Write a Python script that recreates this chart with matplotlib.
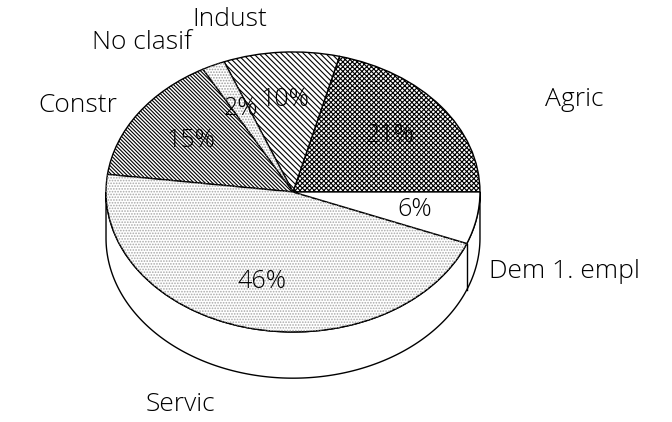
import numpy as np
import matplotlib
matplotlib.use("Agg")
import matplotlib.pyplot as plt
from matplotlib.patches import Wedge, Polygon

# ---- data ----
categories = ["Agric", "Indust", "No clasif", "Constr", "Servic", "Dem 1. empl"]
values = [21, 10, 2, 15, 46, 6]

# ---- styling (not data) ----
hatches = ["xxxxxxx", "\\" * 6, None, "\\" * 9, None, None]
overlay = {2: ("#9a9a9a", "......"), 4: ("#a8a8a8", "......")}
label_pos = [(1.35, 0.66, "left"), (-0.34, 1.23, "center"), (-0.54, 1.07, "right"),
             (-0.94, 0.62, "right"), (-0.79, -1.52, "left"), (1.05, -0.57, "left")]
depth = 0.33

plt.rcParams["hatch.linewidth"] = 0.8
plt.rcParams["font.family"] = ["Open Sans", "DejaVu Sans"]
fig = plt.figure(figsize=(6.72, 4.22), dpi=100)
ax = fig.add_axes([0, 0, 1, 1])

wedges, texts, autotexts = ax.pie(
    values, labels=categories, startangle=0, counterclock=True, autopct="%.0f%%",
    pctdistance=0.66,
    wedgeprops=dict(edgecolor="black", linewidth=1.0, facecolor="white"),
    textprops=dict(fontsize=19, color="black", fontweight="light"))
ax.set_aspect("auto")
ax.set_xlim(-1.567, 2.027)
ax.set_ylim(-1.643, 1.371)
ax.axis("off")

for i, w in enumerate(wedges):
    w.set_zorder(2)
    if hatches[i]:
        w.set_hatch(hatches[i])
    if i in overlay:
        col, h = overlay[i]
        ov = Wedge(w.center, w.r, w.theta1, w.theta2, facecolor="none",
                   edgecolor=col, linewidth=0, hatch=h, zorder=2.1)
        ax.add_patch(ov)

for t in autotexts:
    t.set_zorder(5)
    t.set_fontsize(18)

# side of the 3D pie (front half)
th = np.radians(np.linspace(180, 360, 300))
xt, yt = np.cos(th), np.sin(th)
poly = np.concatenate([np.column_stack([xt, yt]),
                       np.column_stack([xt[::-1], yt[::-1] - depth])])
ax.add_patch(Polygon(poly, closed=True, facecolor="white", edgecolor="black",
                     linewidth=1.0, zorder=1))
bounds = 360 * np.cumsum(values) / np.sum(values)
for b in bounds:
    r = np.radians(b)
    if np.sin(r) < -0.01:
        ax.plot([np.cos(r)] * 2, [np.sin(r), np.sin(r) - depth], color="black",
                lw=1.0, zorder=1.5)

# outer labels
for t, (x, y, ha) in zip(texts, label_pos):
    t.set_position((x, y))
    t.set_ha(ha)
    t.set_va("center")
    t.set_zorder(5)

fig.savefig("out.png", dpi=100, facecolor="white")
